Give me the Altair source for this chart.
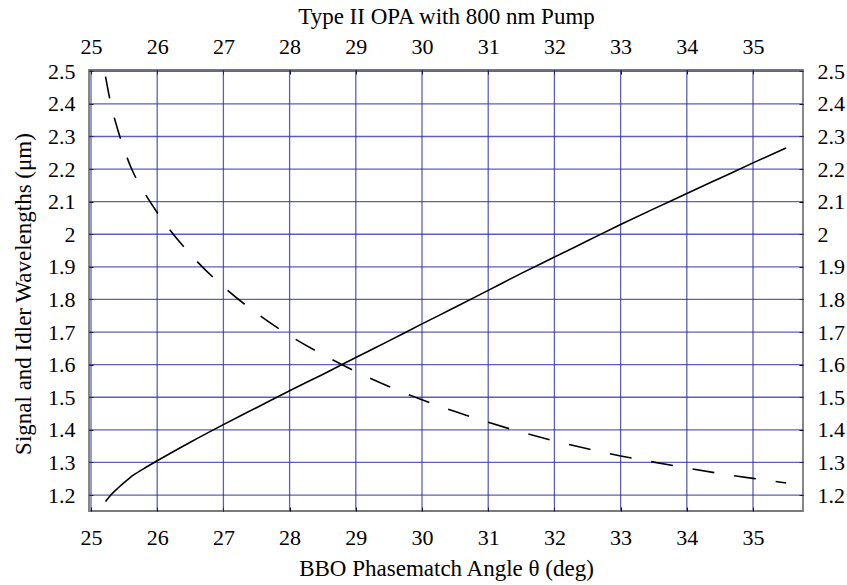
import altair as alt
import pandas as pd

# Phase-match angle (deg) and the corresponding signal / idler wavelengths (um)
angle = [25.22, 25.3, 25.4, 25.5, 25.6, 25.8, 26.0, 26.5, 27.0, 27.5, 28.0, 28.5, 29.0, 29.5,
         30.0, 30.5, 31.0, 31.5, 32.0, 32.5, 33.0, 33.5, 34.0, 34.5, 35.0, 35.5]
signal = [1.180, 1.200, 1.220, 1.238, 1.255, 1.281, 1.305, 1.362, 1.416, 1.468, 1.520, 1.570,
          1.622, 1.673, 1.725, 1.776, 1.828, 1.880, 1.930, 1.980, 2.030, 2.078, 2.125, 2.172,
          2.219, 2.265]
idler = [2.484, 2.400, 2.324, 2.261, 2.207, 2.130, 2.067, 1.939, 1.839, 1.758, 1.689, 1.631,
         1.579, 1.533, 1.492, 1.456, 1.423, 1.393, 1.366, 1.342, 1.320, 1.301, 1.283, 1.266,
         1.251, 1.237]

x_ticks = [25, 26, 27, 28, 29, 30, 31, 32, 33, 34, 35]
y_ticks = [1.2, 1.3, 1.4, 1.5, 1.6, 1.7, 1.8, 1.9, 2.0, 2.1, 2.2, 2.3, 2.4, 2.5]

FONT = "Times New Roman, Liberation Serif, DejaVu Serif, serif"
GRID = "#2a2aa0"
W, H = 714, 441

xs = alt.Scale(domain=[24.97, 35.755], nice=False, zero=False)
ys = alt.Scale(domain=[1.151, 2.504], nice=False, zero=False)

curves = pd.DataFrame({"angle": angle, "signal": signal, "idler": idler})


def axis(orient, **kw):
    base = dict(
        orient=orient, offset=-4, tickSize=4, tickColor="black", tickWidth=1,
        domain=False, grid=False, labelFont=FONT, labelFontSize=22,
        labelColor="black", labelFlush=False, labelOverlap=False,
        titleFont=FONT, titleFontSize=23, titleFontWeight="normal",
        titleColor="black",
    )
    base.update(kw)
    return alt.Axis(**base)


bottom_axis = axis("bottom", values=x_ticks, labelBaseline="alphabetic",
                   labelPadding=33, title="BBO Phasematch Angle θ (deg)",
                   titleBaseline="alphabetic", titleY=68)
top_axis = axis("top", values=x_ticks, labelBaseline="alphabetic",
                labelPadding=17, title="Type II OPA with 800 nm Pump",
                titleBaseline="alphabetic", titleY=-51)
left_axis = axis("left", values=y_ticks, format="~g", labelPadding=14,
                 labelBaseline="middle", labelAlign="right",
                 title="Signal and Idler Wavelengths (μm)", titleAngle=270,
                 titleBaseline="alphabetic", titleAlign="center",
                 titleX=-63, titleY=H / 2 + 3)
right_axis = axis("right", values=y_ticks, format="~g", labelPadding=14,
                  labelBaseline="middle", labelAlign="left", title=None)

vgrid = alt.Chart(pd.DataFrame({"x": x_ticks})).mark_rule(
    color=GRID, strokeWidth=1.3, opacity=0.75
).encode(x=alt.X("x:Q", scale=xs, axis=bottom_axis))

hgrid = alt.Chart(pd.DataFrame({"y": y_ticks})).mark_rule(
    color=GRID, strokeWidth=1.3, opacity=0.75
).encode(y=alt.Y("y:Q", scale=ys, axis=left_axis))

sig = alt.Chart(curves).mark_line(
    color="black", strokeWidth=1.6, interpolate="monotone"
).encode(
    x=alt.X("angle:Q", scale=xs, axis=top_axis),
    y=alt.Y("signal:Q", scale=ys, axis=right_axis),
)

idl = alt.Chart(curves).mark_line(
    color="black", strokeWidth=1.6, strokeDash=[22, 20], interpolate="monotone"
).encode(
    x=alt.X("angle:Q", scale=xs, axis=None),
    y=alt.Y("idler:Q", scale=ys, axis=None),
)

chart = (
    alt.layer(vgrid, hgrid, sig, idl)
    .resolve_axis(x="independent", y="independent")
    .properties(
        width=W, height=H,
        autosize=alt.AutoSizeParams(type="none"),
        padding={"left": 89, "top": 70, "right": 44, "bottom": 74},
        background="white",
    )
    .configure_view(stroke="#7a7a7a", strokeWidth=1.8)
)

chart.save("out.html", embed_options={"renderer": "svg", "actions": False})
